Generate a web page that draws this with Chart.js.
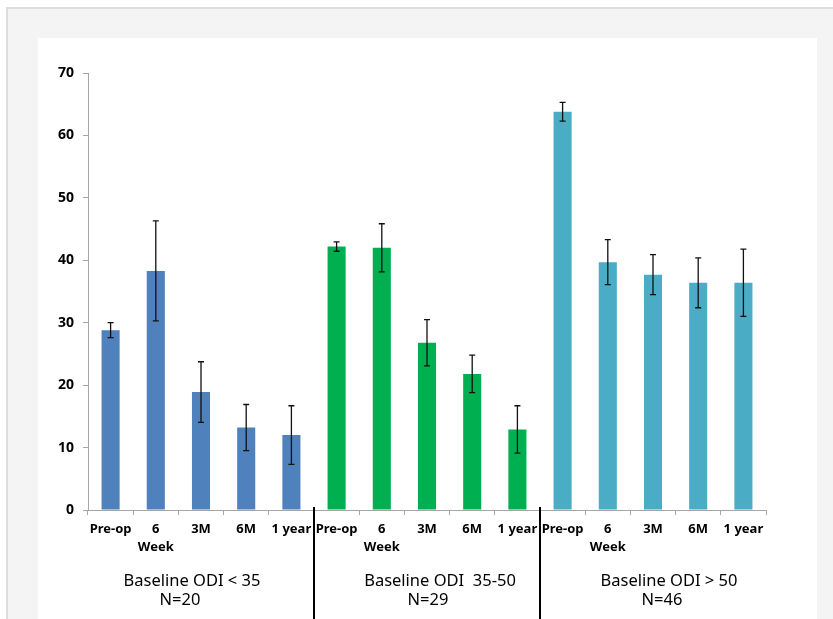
<!DOCTYPE html>
<html>
<head>
<meta charset="utf-8">
<script src="https://cdn.jsdelivr.net/npm/chart.js@4"></script>
<style>
  html, body { margin: 0; padding: 0; background: #fff; }
  #frame { position: absolute; left: 6px; top: 7px; width: 840px; height: 620px;
           background: #f4f4f4; border-top: 2px solid #dedede; border-left: 2px solid #dedede; }
  #panel { position: absolute; left: 38px; top: 38px; width: 779px; height: 581px; background: #fff; }
</style>
</head>
<body>
<div id="frame"></div>
<div id="panel"><canvas id="chart" width="779" height="581"></canvas></div>
<script>
// groups and time points
const groups = ['Baseline ODI < 35', 'Baseline ODI  35-50', 'Baseline ODI > 50'];
const groupN = ['N=20', 'N=29', 'N=46'];
const timepoints = ['Pre-op', ['6', 'Week'], '3M', '6M', '1 year'];
const yTicks = [0, 10, 20, 30, 40, 50, 60, 70];

// mean ODI per group
const meanLow = [28.8, 38.3, 18.9, 13.2, 12.0];
const meanMid = [42.2, 42.0, 26.8, 21.8, 12.9];
const meanHigh = [63.8, 39.7, 37.7, 36.4, 36.4];

// error (+/-) per group
const errLow = [1.2, 8.0, 4.85, 3.7, 4.7];
const errMid = [0.75, 3.85, 3.7, 3.0, 3.8];
const errHigh = [1.5, 3.6, 3.2, 4.0, 5.4];

const groupColors = ['#4f81bd', '#00b050', '#4bacc6'];

// flatten for the single bar dataset
const labels = [].concat(timepoints, timepoints, timepoints);
const values = [].concat(meanLow, meanMid, meanHigh);
const errors = [].concat(errLow, errMid, errHigh);
const colors = labels.map((l, i) => groupColors[Math.floor(i / timepoints.length)]);

// style offsets for the group captions (centre shift in px)
const captionShift = [[-9, -21], [13, 1], [16, 9]];

const errorBars = {
  id: 'errorBars',
  afterDatasetsDraw(chart) {
    const ctx = chart.ctx, y = chart.scales.y;
    const meta = chart.getDatasetMeta(0);
    ctx.save();
    ctx.strokeStyle = '#111';
    ctx.lineWidth = 1.3;
    meta.data.forEach((bar, i) => {
      const top = y.getPixelForValue(values[i] + errors[i]);
      const bot = y.getPixelForValue(values[i] - errors[i]);
      ctx.beginPath();
      ctx.moveTo(bar.x, top); ctx.lineTo(bar.x, bot);
      ctx.moveTo(bar.x - 3, top); ctx.lineTo(bar.x + 3, top);
      ctx.moveTo(bar.x - 3, bot); ctx.lineTo(bar.x + 3, bot);
      ctx.stroke();
    });
    ctx.restore();
  }
};

const groupCaptions = {
  id: 'groupCaptions',
  afterDraw(chart) {
    const ctx = chart.ctx, x = chart.scales.x, area = chart.chartArea;
    const n = timepoints.length;
    ctx.save();
    // separators between groups
    ctx.strokeStyle = '#000';
    ctx.lineWidth = 2;
    for (let g = 1; g < groups.length; g++) {
      const sx = Math.round((x.getPixelForValue(g * n - 1) + x.getPixelForValue(g * n)) / 2);
      ctx.beginPath();
      ctx.moveTo(sx, area.bottom - 3);
      ctx.lineTo(sx, chart.height);
      ctx.stroke();
    }
    ctx.fillStyle = '#000';
    ctx.textAlign = 'center';
    ctx.textBaseline = 'middle';
    ctx.font = '16.5px "Noto Sans"';
    groups.forEach((g, i) => {
      const cx = (x.getPixelForValue(i * n) + x.getPixelForValue(i * n + n - 1)) / 2;
      ctx.fillText(g, cx + captionShift[i][0], 543);
      ctx.fillText(groupN[i], cx + captionShift[i][1], 562);
    });
    ctx.restore();
  }
};

new Chart(document.getElementById('chart'), {
  type: 'bar',
  data: {
    labels: labels,
    datasets: [{ data: values, backgroundColor: colors, borderWidth: 0,
                 categoryPercentage: 1, barPercentage: 0.4 }]
  },
  options: {
    responsive: false,
    animation: false,
    layout: { padding: { top: 35, right: 51, left: 0, bottom: 0 } },
    plugins: { legend: { display: false }, tooltip: { enabled: false } },
    scales: {
      x: {
        afterFit(scale) { scale.height = 109; },
        grid: { drawOnChartArea: false, tickLength: 5, color: '#a6a6a6' },
        border: { color: '#a6a6a6' },
        ticks: { color: '#000', font: { family: 'Noto Sans', size: 13, weight: 'bold', lineHeight: 1.4 },
                 padding: 5, maxRotation: 0, autoSkip: false }
      },
      y: {
        min: 0, max: 70,
        afterFit(scale) { scale.width = 50; },
        afterBuildTicks(scale) { scale.ticks = yTicks.map(v => ({ value: v })); },
        grid: { drawOnChartArea: false, tickLength: 5, color: '#a6a6a6' },
        border: { color: '#a6a6a6' },
        ticks: { color: '#000', font: { family: 'Noto Sans', size: 14, weight: 'bold' }, padding: 9 }
      }
    }
  },
  plugins: [errorBars, groupCaptions]
});
</script>
</body>
</html>
